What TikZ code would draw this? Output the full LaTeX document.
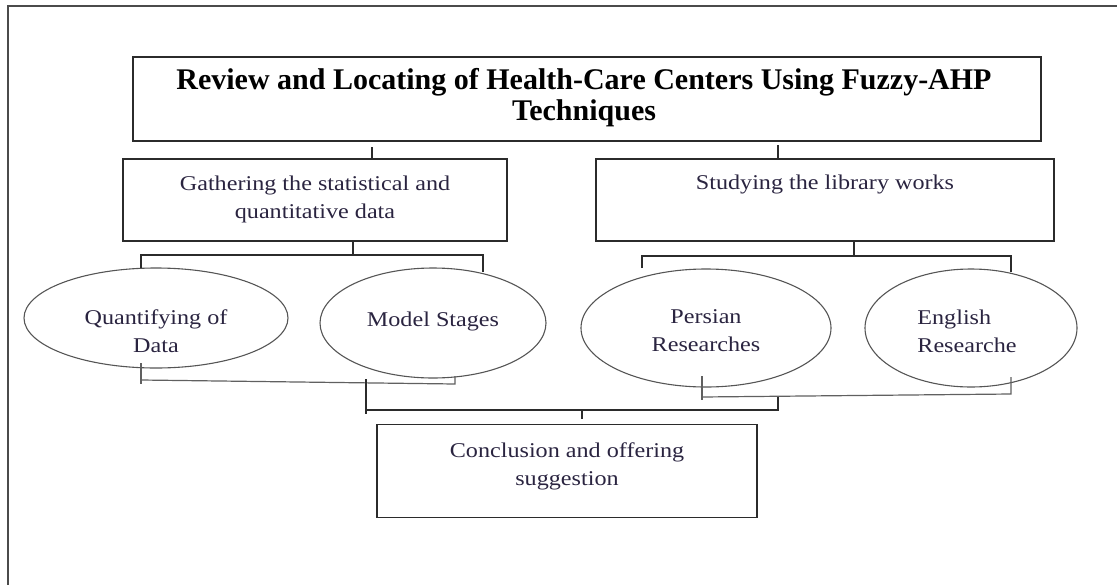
\documentclass[tikz,border=0pt]{standalone}
\usepackage{fontspec}
\setmainfont{Liberation Serif}
\newfontfamily\lblfont[FakeStretch=1.15]{Liberation Serif}
\usetikzlibrary{shapes.geometric}
\definecolor{ink}{HTML}{2B2B2B}
\definecolor{txt}{HTML}{2A2440}
\tikzset{
  frame/.style={draw=ink!85, line width=2.2pt},
  boxshape/.style={draw=ink, line width=1.5pt, rectangle, inner sep=0pt},
  ovalshape/.style={draw=ink!80, line width=1.1pt, ellipse, inner sep=0pt},
  lbl/.style={text=txt, font=\lblfont\fontsize{21}{28}\selectfont, align=center, inner sep=0pt},
  ttl/.style={font=\fontsize{30}{31}\selectfont\bfseries, align=center, inner sep=0pt},
  conn/.style={draw=ink, line width=1.3pt},
  connthin/.style={draw=ink!75, line width=1.2pt}
}
\begin{document}
\begin{tikzpicture}[x=1pt,y=-1pt]
\useasboundingbox (0,0) rectangle (1117,584);
\clip (0,0) rectangle (1117,584);
\draw[frame] (8,6) rectangle (1135,610);
% title
\node[boxshape, line width=1.9pt, minimum width=908pt, minimum height=84pt] (title) at (587,99) {};
\node[ttl] (ttext) at (584,97.5) {Review and Locating of Health-Care Centers Using Fuzzy-AHP\\Techniques};
% second level boxes
\node[boxshape, minimum width=384pt, minimum height=82pt] (gbox) at (315,200) {};
\node[lbl] (gtext) at (315,199) {Gathering the statistical and\\quantitative data};
\node[boxshape, minimum width=458pt, minimum height=82pt] (sbox) at (825,200) {};
\node[lbl, anchor=base] (stext) at (825,189) {Studying the library works};
% ellipses
\node[ovalshape, minimum width=264pt, minimum height=100pt] (e1) at (156,318) {};
\node[lbl] (e1t) at (156,331) {Quantifying of\\Data};
\node[ovalshape, minimum width=226pt, minimum height=110pt] (e2) at (433,323) {};
\node[lbl, anchor=base] (e2t) at (433,326) {Model Stages};
\node[ovalshape, minimum width=250pt, minimum height=118pt] (e3) at (706,328) {};
\node[lbl] (e3t) at (706,331) {Persian\\Researches};
\node[ovalshape, minimum width=212pt, minimum height=118pt] (e4) at (971,328) {};
\node[lbl, align=left] (e4t) at (967,331) {English\\Researche};
% conclusion
\node[boxshape, minimum width=380pt, minimum height=93pt] (cbox) at (567,471) {};
\node[lbl] (ctext) at (567,466) {Conclusion and offering\\suggestion};
% connector points
\coordinate (tt) at (372,147);
\coordinate (st) at (778,145);
\coordinate (gb) at (353,255);
\coordinate (sb) at (854,256);
\coordinate (l1) at (141,380);
\coordinate (l2) at (455,384);
\coordinate (r1) at (702,397);
\coordinate (r2) at (1011,394);
\coordinate (ml) at (366,410);
\coordinate (mr) at (778,410);
\coordinate (ct) at (582,410);
% top ticks
\draw[conn] (tt) -- (tt |- gbox.north);
\draw[conn] (st) -- (st |- sbox.north);
% left bracket
\draw[conn] (gbox.south -| gb) -- (gb);
\draw[conn] (141,268) |- (gb) -| (483,272);
% right bracket
\draw[conn] (sbox.south -| sb) -- (sb);
\draw[conn] (642,268) |- (sb) -| (1011,272);
% lower left bracket
\draw[connthin] (141,363) -- (141,384);
\draw[connthin] (l1) -- (l2) -- (455,376);
% lower right bracket
\draw[connthin] (702,376) -- (702,400);
\draw[connthin] (r1) -- (r2) -- (1011,377);
% joining line
\draw[conn] (366,379) -- (366,414);
\draw[conn] (ml) -- (mr) -- (778,397);
\draw[conn] (ct) -- (582,419);
\end{tikzpicture}
\end{document}
